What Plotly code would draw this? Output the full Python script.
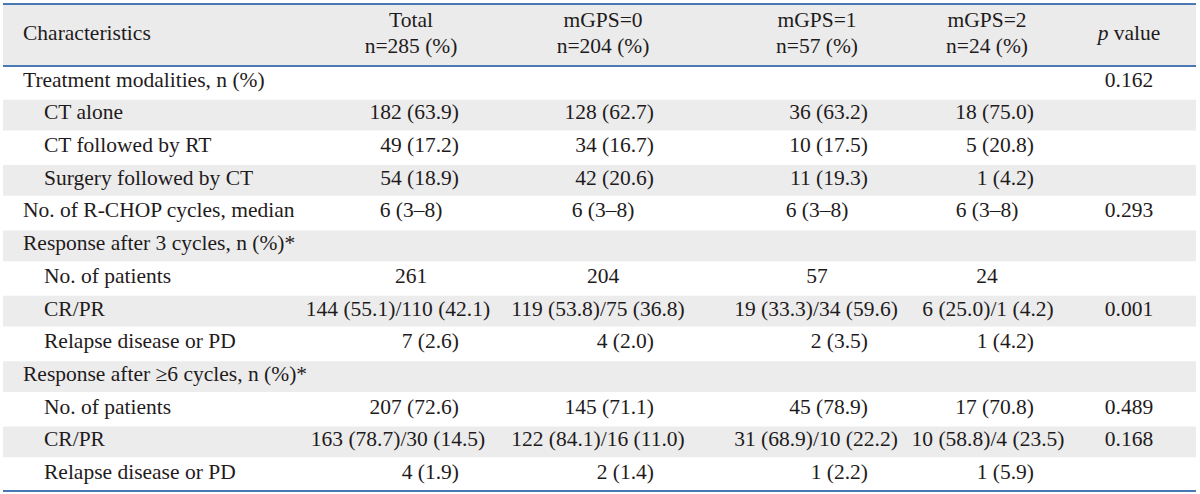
import re
import plotly.graph_objects as go

# ---------------- data ----------------
header_line1 = ["Characteristics", "Total", "mGPS=0", "mGPS=1", "mGPS=2", "<i>p</i> value"]
header_line2 = ["", "n=285 (%)", "n=204 (%)", "n=57 (%)", "n=24 (%)", ""]

categories = [
    "Treatment modalities, n (%)",
    "CT alone",
    "CT followed by RT",
    "Surgery followed by CT",
    "No. of R-CHOP cycles, median",
    "Response after 3 cycles, n (%)*",
    "No. of patients",
    "CR/PR",
    "Relapse disease or PD",
    "Response after \u22656 cycles, n (%)*",
    "No. of patients",
    "CR/PR",
    "Relapse disease or PD",
]
indent_level = [0, 1, 1, 1, 0, 0, 1, 1, 1, 0, 1, 1, 1]

total = ["", "182 (63.9)", "49 (17.2)", "54 (18.9)", "6 (3\u20138)", "", "261",
         "144 (55.1)/110 (42.1)", "7 (2.6)", "", "207 (72.6)", "163 (78.7)/30 (14.5)", "4 (1.9)"]
mgps0 = ["", "128 (62.7)", "34 (16.7)", "42 (20.6)", "6 (3\u20138)", "", "204",
         "119 (53.8)/75 (36.8)", "4 (2.0)", "", "145 (71.1)", "122 (84.1)/16 (11.0)", "2 (1.4)"]
mgps1 = ["", "36 (63.2)", "10 (17.5)", "11 (19.3)", "6 (3\u20138)", "", "57",
         "19 (33.3)/34 (59.6)", "2 (3.5)", "", "45 (78.9)", "31 (68.9)/10 (22.2)", "1 (2.2)"]
mgps2 = ["", "18 (75.0)", "5 (20.8)", "1 (4.2)", "6 (3\u20138)", "", "24",
         "6 (25.0)/1 (4.2)", "1 (4.2)", "", "17 (70.8)", "10 (58.8)/4 (23.5)", "1 (5.9)"]
pvalue = ["0.162", "", "", "", "0.293", "", "", "0.001", "", "", "0.489", "0.168", ""]

# ---------------- layout constants ----------------
W, H = 1200, 494
FONT = "Liberation Serif"
FS = 21.5
TXT = "#1f1b1c"
GRAY = "#ececec"
HEAD_GRAY = "#ebebeb"
BLUE = "#4a78b4"
X0, X1 = 3, 1196
TOP, HEAD_BOT, BOT = 4, 66, 491
n_rows = len(categories)
row_h = (BOT - HEAD_BOT) / n_rows
row_y = [HEAD_BOT + (i + 0.5) * row_h - 1 for i in range(n_rows)]
head_y = (TOP + HEAD_BOT) / 2
head_y1, head_y2 = 22, 48

TEXT_PAD = 2  # scatter text offset for left/right anchored text
first_x = [25 - TEXT_PAD, 46 - TEXT_PAD]
col_centers = [411, 603, 817, 987, 1129]     # headers, counts, medians, p values
pair_centers = [398, 598, 816, 988, 1129]    # "a/b" response pairs
col_rights = [457, 652, 866, 1032, 1160]     # "n (%)" values

pct_re = re.compile(r"^\d+ \(\d+\.\d\)$")

fig = go.Figure()

shapes = []
shapes.append(dict(type="rect", xref="x", yref="y", x0=X0, x1=X1, y0=TOP, y1=HEAD_BOT,
                   fillcolor=HEAD_GRAY, line_width=0, layer="below"))
for i in range(n_rows):
    if i % 2 == 1:
        shapes.append(dict(type="rect", xref="x", yref="y", x0=X0, x1=X1,
                           y0=HEAD_BOT + i * row_h + 1, y1=HEAD_BOT + (i + 1) * row_h - 1,
                           fillcolor=GRAY, line_width=0, layer="below"))
for yy in [TOP, HEAD_BOT, BOT]:
    shapes.append(dict(type="line", xref="x", yref="y", x0=X0, x1=X1, y0=yy, y1=yy,
                       line=dict(color=BLUE, width=2), layer="above"))

tf = dict(family=FONT, size=FS, color=TXT)

# header text
fig.add_trace(go.Scatter(x=[first_x[0]], y=[head_y], text=[header_line1[0]], mode="text",
                         textposition="middle right", textfont=tf, hoverinfo="skip"))
fig.add_trace(go.Scatter(x=[col_centers[-1]], y=[head_y], text=[header_line1[-1]], mode="text",
                         textposition="middle center", textfont=tf, hoverinfo="skip"))
fig.add_trace(go.Scatter(x=col_centers[:-1], y=[head_y1] * 4, text=header_line1[1:-1],
                         mode="text", textposition="middle center", textfont=tf, hoverinfo="skip"))
fig.add_trace(go.Scatter(x=col_centers[:-1], y=[head_y2] * 4, text=header_line2[1:-1],
                         mode="text", textposition="middle center", textfont=tf, hoverinfo="skip"))

# first column
fig.add_trace(go.Scatter(x=[first_x[l] for l in indent_level], y=row_y, text=categories,
                         mode="text", textposition="middle right", textfont=tf, hoverinfo="skip"))

# data columns: "n (%)" values right-aligned, pairs and others centred
for cc, pc, cr, col in zip(col_centers, pair_centers, col_rights,
                           [total, mgps0, mgps1, mgps2, pvalue]):
    rx, ry, rt, cx, cy, ct = [], [], [], [], [], []
    for y, s in zip(row_y, col):
        if not s:
            continue
        if pct_re.match(s):
            rx.append(cr + TEXT_PAD); ry.append(y); rt.append(s)
        else:
            cx.append(pc if "/" in s else cc); cy.append(y); ct.append(s)
    if rt:
        fig.add_trace(go.Scatter(x=rx, y=ry, text=rt, mode="text", textposition="middle left",
                                 textfont=tf, hoverinfo="skip"))
    if ct:
        fig.add_trace(go.Scatter(x=cx, y=cy, text=ct, mode="text", textposition="middle center",
                                 textfont=tf, hoverinfo="skip"))

fig.update_layout(
    width=W, height=H, margin=dict(l=0, r=0, t=0, b=0),
    paper_bgcolor="white", plot_bgcolor="white", showlegend=False,
    xaxis=dict(range=[0, W], visible=False, fixedrange=True),
    yaxis=dict(range=[H, 0], visible=False, fixedrange=True),
    shapes=shapes,
)

fig.write_html("out.html", config={"displayModeBar": False},
               post_script="document.body.style.margin='0';document.body.style.overflow='hidden';")
